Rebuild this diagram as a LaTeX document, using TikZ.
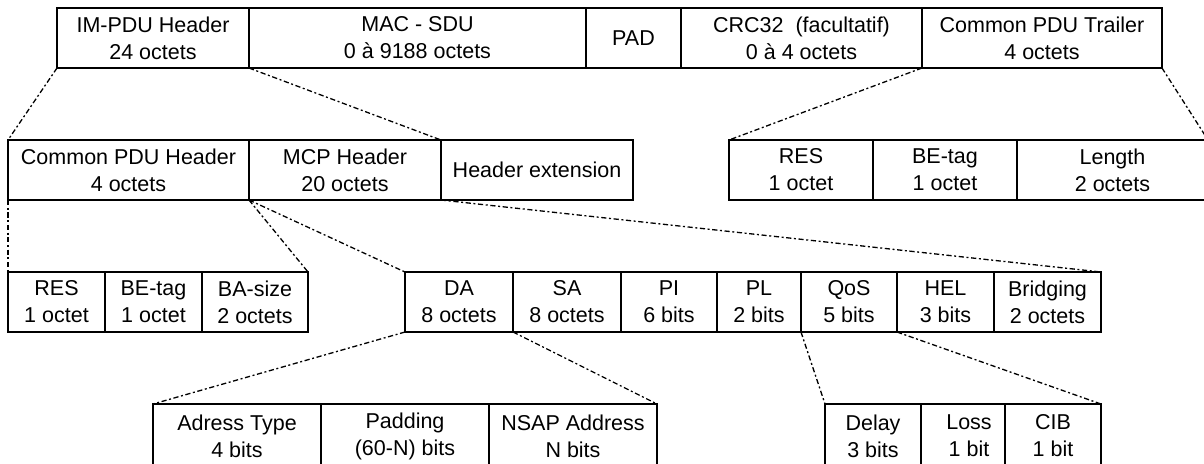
\documentclass[tikz,border=0pt]{standalone}
\usepackage{fontspec}
\setmainfont{Liberation Sans}
\begin{document}
\begin{tikzpicture}[x=0.5pt,y=-0.5pt,
  cellbox/.style={draw, line width=0.75pt, inner sep=0pt, outer sep=0pt,
    anchor=north west, align=center, minimum height=30pt,
    font=\fontsize{10.75}{13.5}\selectfont},
  zoomline/.style={line width=0.65pt, dash pattern=on 2.6pt off 1.3pt on 1pt off 1.3pt}]
\newcommand\cell[5]{\node[cellbox, minimum width={(#3-#2)*0.5pt}] (#1) at (#2,#4) {#5};}
\useasboundingbox (0,0) rectangle (1204,463);
% frame
\cell{imh}{57}{249}{8}{IM-PDU Header\\24 octets}
\cell{sdu}{249}{586}{8}{MAC - SDU\\0 à 9188 octets}
\cell{pad}{586}{681}{8}{PAD}
\cell{crc}{681}{922}{8}{CRC32\ \ (facultatif)\\0 à 4 octets}
\cell{trl}{922}{1162}{8}{Common PDU Trailer\\4 octets}
% IM-PDU header
\cell{cph}{8}{249}{140}{Common PDU Header\\4 octets}
\cell{mcp}{249}{441}{140}{MCP Header\\20 octets}
\cell{hext}{441}{633}{140}{Header extension}
% trailer
\cell{tres}{729}{873}{140}{RES\\1 octet}
\cell{tbe}{873}{1017}{140}{BE-tag\\1 octet}
\cell{tlen}{1017}{1208}{140}{Length\\2 octets}
% common PDU header
\cell{hres}{8}{105}{272}{RES\\1 octet}
\cell{hbe}{105}{202}{272}{BE-tag\\1 octet}
\cell{hba}{202}{308}{272}{BA-size\\2 octets}
% MCP header
\cell{da}{405}{513}{272}{DA\\8 octets}
\cell{sa}{513}{621}{272}{SA\\8 octets}
\cell{pi}{621}{717}{272}{PI\\6 bits}
\cell{pl}{717}{801}{272}{PL\\2 bits}
\cell{qos}{801}{897}{272}{QoS\\5 bits}
\cell{hel}{897}{994}{272}{HEL\\3 bits}
\cell{brg}{994}{1101}{272}{Bridging\\2 octets}
% destination address
\node[cellbox, minimum width={(321-153)*0.5pt}, minimum height=32pt] (atype) at (153,404) {Adress Type\\4 bits};
\node[cellbox, minimum width={(489-321)*0.5pt}, minimum height=32pt] (apad) at (321,404) {Padding\\(60-N) bits};
\node[cellbox, minimum width={(657-489)*0.5pt}, minimum height=32pt] (nsap) at (489,404) {NSAP Address\\N bits};
% QoS
\node[cellbox, minimum width={(921-825)*0.5pt}, minimum height=32pt] (dly) at (825,404) {Delay\\3 bits};
\node[cellbox, minimum width={(1005-921)*0.5pt}, minimum height=32pt] (loss) at (921,404) {\hspace*{6pt}Loss\\\hspace*{6pt}1 bit};
\node[cellbox, minimum width={(1101-1005)*0.5pt}, minimum height=32pt] (cib) at (1005,404) {CIB\\1 bit};
% expansion lines
\draw[zoomline] (imh.south west) -- (cph.north west);
\draw[zoomline] (imh.south east) -- (mcp.north east);
\draw[zoomline] (trl.south west) -- (tres.north west);
\draw[zoomline] (trl.south east) -- (tlen.north east);
\draw[zoomline] (cph.south west) -- (hres.north west);
\draw[zoomline] (cph.south east) -- (hba.north east);
\draw[zoomline] (mcp.south west) -- (da.north west);
\draw[zoomline] (mcp.south east) -- (brg.north east);
\draw[zoomline] (da.south west) -- (atype.north west);
\draw[zoomline] (da.south east) -- (nsap.north east);
\draw[zoomline] (qos.south west) -- (dly.north west);
\draw[zoomline] (qos.south east) -- (cib.north east);
\end{tikzpicture}
\end{document}
